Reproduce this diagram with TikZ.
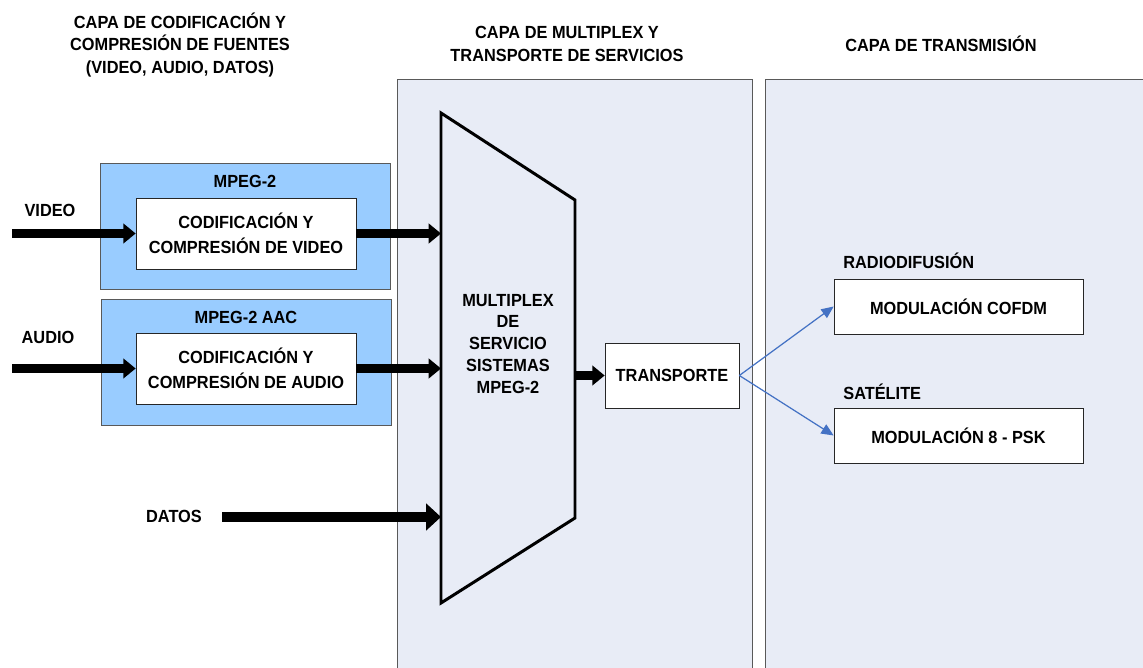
\documentclass[tikz,border=0pt]{standalone}
\usepackage{fontspec}
\setmainfont{Liberation Sans}[FakeStretch=0.93]
\usetikzlibrary{arrows.meta}
\definecolor{capagris}{HTML}{E8ECF6}
\definecolor{mpegazul}{HTML}{99CCFF}
\definecolor{flechaazul}{HTML}{4472C4}
\newcommand{\txtcapa}{\fontsize{10}{13}\selectfont\bfseries}
\newcommand{\txtcaja}{\fontsize{10}{14}\selectfont\bfseries}
\tikzset{
  capa/.style={draw=black!65, fill=capagris, anchor=north west, minimum width=#1, minimum height=12cm, inner sep=0pt},
  mpegbox/.style={draw=black!65, fill=mpegazul, minimum width=5.8cm, minimum height=2.52cm, inner sep=0pt},
  codbox/.style={draw=black!85, fill=white, minimum width=4.4cm, minimum height=1.42cm, inner sep=0pt, align=center, font=\txtcaja},
  modbox/.style={draw=black!85, fill=white, minimum width=4.98cm, minimum height=1.1cm, inner sep=0pt, font=\txtcaja},
  etiq/.style={inner sep=0pt, font=\txtcaja},
  titulo/.style={inner sep=0pt, align=center, font=\txtcapa},
  flecha/.style={line width=5pt, -{Triangle[length=7pt,width=11pt]}},
  flechagrande/.style={line width=5.8pt, -{Triangle[length=8.5pt,width=15pt]}},
  enlace/.style={flechaazul, line width=0.7pt, -{Triangle[length=7pt,width=6pt]}}
}
\begin{document}
\begin{tikzpicture}[x=0.02cm, y=-0.02cm]
\useasboundingbox (0,0) rectangle (1143,668);
% capas
\node[titulo] (tcod) at (180,45) {CAPA DE CODIFICACIÓN Y\\COMPRESIÓN DE FUENTES\\(VIDEO, AUDIO, DATOS)};
\node[titulo] (tmux) at (567,44) {CAPA DE MULTIPLEX Y\\TRANSPORTE DE SERVICIOS};
\node[titulo] (ttx) at (941,44) {CAPA DE TRANSMISIÓN};
\node[capa=7.1cm] (pmux) at (397,79) {};
\node[capa=7.9cm] (ptx) at (765,79) {};
% fuentes
\node[mpegbox] (mpegv) at (245,226) {}; \node[etiq] (lmpegv) at (245,181) {MPEG-2};
\node[codbox] (codv) at (246,233.5) {CODIFICACIÓN Y\\COMPRESIÓN DE VIDEO};
\node[mpegbox] (mpega) at (246,362) {}; \node[etiq] (lmpega) at (246,317) {MPEG-2 AAC};
\node[codbox] (coda) at (246,368.5) {CODIFICACIÓN Y\\COMPRESIÓN DE AUDIO};
\node[etiq] (lvideo) at (50,210) {VIDEO}; \coordinate (vin) at (12,233.5);
\node[etiq] (laudio) at (48,337) {AUDIO}; \coordinate (ain) at (12,368.5);
\node[etiq] (ldatos) at (174,516) {DATOS}; \coordinate (din) at (222,517);
% multiplexor
\coordinate (mtl) at (441,113); \coordinate (mtr) at (575,200);
\coordinate (mbr) at (575,518); \coordinate (mbl) at (441,603);
\draw[line width=1.7pt, line join=miter] (mtl) -- (mtr) -- (mbr) -- (mbl) -- cycle;
\node[titulo, font=\fontsize{10}{12.5}\selectfont\bfseries] (mux) at (508,344) {MULTIPLEX\\DE\\SERVICIO\\SISTEMAS\\MPEG-2};
\node[codbox, minimum width=2.68cm, minimum height=1.3cm] (tra) at (672,375.5) {TRANSPORTE};
% transmision
\node[modbox] (cofdm) at (958.5,306.5) {MODULACIÓN COFDM};
\node[modbox] (psk) at (958.5,435.5) {MODULACIÓN 8 - PSK};
\node[etiq, anchor=west] (lradio) at (843,261) {RADIODIFUSIÓN};
\node[etiq, anchor=west] (lsat) at (843,392) {SATÉLITE};
% flechas
\draw[flecha] (vin) -- (codv.west);
\draw[flecha] (ain) -- (coda.west);
\draw[flecha] (codv.east) -- (codv.east -| mtl);
\draw[flecha] (coda.east) -- (coda.east -| mtl);
\draw[flechagrande] (din) -- (din -| mtl);
\draw[flecha] (tra.west -| mtr) -- (tra.west);
\draw[enlace] (tra.east) -- (cofdm.west);
\draw[enlace] (tra.east) -- (psk.west);
\end{tikzpicture}
\end{document}
